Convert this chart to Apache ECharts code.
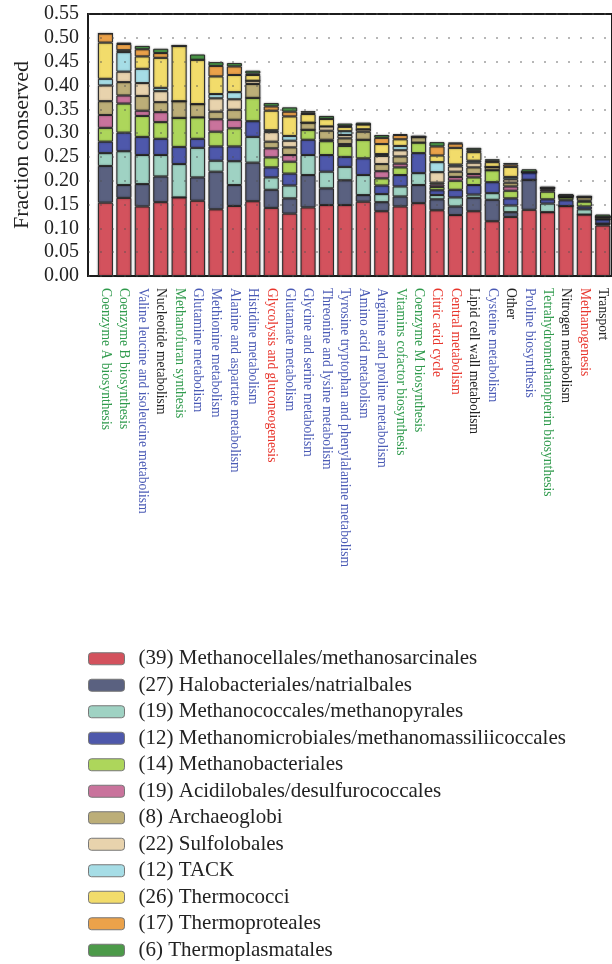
<!DOCTYPE html>
<html>
<head>
<meta charset="utf-8">
<script src="https://cdn.jsdelivr.net/npm/echarts@6/dist/echarts.min.js"></script>
<style>
html,body{margin:0;padding:0;background:#fff;}
#chart{width:612px;height:964px;}
</style>
</head>
<body>
<div id="chart"></div>
<script>
const categories = [
  'Coenzyme A biosynthesis','Coenzyme B biosynthesis','Valine leucine and isoleucine metabolism',
  'Nucleotide metabolism','Methanofuran synthesis','Glutamine metabolism','Methionine metabolism',
  'Alanine and aspartate metabolism','Histidine metabolism','Glycolysis and gluconeogenesis',
  'Glutamate metabolism','Glycine and serine metabolism','Threonine and lysine metabolism',
  'Tyrosine tryptophan and phenylalanine metabolism','Amino acid metabolism','Arginine and proline metabolism',
  'Vitamins cofactor biosynthesis','Coenzyme M biosynthesis','Citric acid cycle','Central metabolism',
  'Lipid cell wall metabolism','Cysteine metabolism','Other','Proline biosynthesis',
  'Tetrahydromethanopterin biosynthesis','Nitrogen metabolism','Methanogenesis','Transport'
];
const categoryGroups = [
  'cofactor','cofactor','amino','other','cofactor','amino','amino','amino','amino','energy',
  'amino','amino','amino','amino','amino','amino','cofactor','cofactor','energy','energy',
  'other','amino','other','amino','cofactor','other','energy','other'
];
const seriesNames = [
  '(39) Methanocellales/methanosarcinales','(27) Halobacteriales/natrialbales',
  '(19) Methanococcales/methanopyrales','(12) Methanomicrobiales/methanomassiliicoccales',
  '(14) Methanobacteriales','(19) Acidilobales/desulfurococcales','(8) Archaeoglobi',
  '(22) Sulfolobales','(12) TACK','(26) Thermococci','(17) Thermoproteales','(6) Thermoplasmatales'
];
const methanocellales = [0.154,0.164,0.146,0.155,0.165,0.158,0.140,0.147,0.157,0.143,0.131,0.144,0.149,0.149,0.156,0.136,0.146,0.153,0.138,0.128,0.136,0.115,0.124,0.139,0.134,0.147,0.129,0.106];
const halobacteriales = [0.077,0.027,0.047,0.054,0,0.049,0.079,0.044,0.081,0.038,0.032,0.068,0.035,0.052,0.014,0.019,0.021,0.038,0.023,0.018,0.028,0.045,0.010,0.063,0,0,0,0.004];
const methanococcales = [0.027,0.071,0.061,0.045,0.070,0.062,0.023,0.050,0.054,0.026,0.027,0.042,0.035,0.028,0.042,0.017,0.021,0.025,0.009,0.019,0.007,0.014,0.014,0,0.018,0,0.011,0];
const methanomicrobiales = [0.024,0.039,0.038,0.034,0.036,0.019,0.030,0.031,0.033,0.021,0.025,0.032,0.035,0.021,0.035,0.018,0.024,0.042,0.010,0.016,0.020,0.023,0.015,0.016,0.009,0.012,0.006,0.009];
const methanobacteriales = [0.029,0.061,0.044,0.035,0.061,0.045,0.031,0.038,0.049,0.021,0.025,0.021,0.029,0.023,0.039,0.015,0.016,0.022,0.007,0.019,0.016,0.025,0.016,0,0.016,0.006,0.010,0];
const acidilobales = [0.027,0.017,0.011,0.021,0,0,0.026,0.018,0,0.019,0.014,0,0.003,0.004,0,0.015,0.008,0,0.005,0.008,0.007,0,0.009,0,0.004,0,0.002,0];
const archaeoglobi = [0.029,0.028,0.031,0.021,0.035,0.028,0.016,0.021,0.029,0.014,0.016,0.015,0.019,0.012,0.017,0.015,0.015,0.012,0.004,0.011,0.014,0.007,0.008,0,0.004,0.003,0.008,0.005];
const sulfolobales = [0.033,0.022,0.027,0.023,0,0,0.028,0.022,0.007,0.020,0.014,0,0.009,0.007,0.005,0.017,0.013,0,0.022,0.011,0.010,0,0.007,0,0,0,0,0];
const tack = [0.014,0.041,0.030,0.007,0,0,0.009,0.015,0,0.004,0.010,0,0,0.008,0,0.004,0.009,0,0.021,0.004,0.004,0,0.005,0,0,0,0,0];
const thermococci = [0.076,0.004,0.026,0.063,0.116,0.093,0.037,0.036,0.012,0.041,0.041,0.018,0.016,0.009,0.010,0.021,0.014,0,0.014,0.035,0.018,0.010,0.021,0,0,0,0,0];
const thermoproteales = [0.019,0.013,0.015,0.010,0,0,0.022,0.018,0.003,0.009,0.010,0.003,0,0.002,0,0.013,0.009,0,0.019,0.009,0.004,0.003,0.005,0,0,0,0,0];
const thermoplasmatales = [0,0.003,0.007,0.009,0,0.011,0.008,0.007,0.006,0.007,0.009,0.003,0.006,0.005,0.004,0.006,0.002,0.002,0.009,0.002,0.005,0.003,0.003,0.006,0.002,0.004,0.002,0.005];

const seriesValues = [methanocellales,halobacteriales,methanococcales,methanomicrobiales,methanobacteriales,
  acidilobales,archaeoglobi,sulfolobales,tack,thermococci,thermoproteales,thermoplasmatales];
const seriesColors = ['#d3525d','#5a6180','#9fd2c3','#4e58ab','#add65b','#c9739c','#bcae78','#e8d3ad','#a6dde6','#f2dc6b','#eba24a','#4c9a49'];
const groupColors = {cofactor:'#2f9a4c', amino:'#4a5ab5', energy:'#e8352c', other:'#222222'};
const SERIF = '"Liberation Serif","DejaVu Serif",serif';

const chart = echarts.init(document.getElementById('chart'), null, {renderer:'canvas'});
chart.setOption({
  animation:false,
  backgroundColor:'#ffffff',
  grid:[
    {left:88, top:14, width:640, height:262, show:true, borderColor:'#1c1c1c', borderWidth:2, backgroundColor:'transparent'},
    {left:96.25, top:14, width:518.5, height:262}
  ],
  xAxis:[
    {gridIndex:0, type:'value', show:false, min:0, max:1},
    {gridIndex:1, type:'category', data:categories,
     axisLine:{show:false}, axisTick:{show:false},
     axisLabel:{interval:0, rotate:-90, margin:12, fontFamily:SERIF, fontSize:13.6,
       color:function(v, i){ return groupColors[categoryGroups[categories.indexOf(v)]]; }}}
  ],
  yAxis:[
    {gridIndex:0, type:'value', min:0, max:0.55, interval:0.05, z:5,
     axisLine:{show:false}, axisTick:{show:false},
     axisLabel:{formatter:function(v){return v.toFixed(2);}, fontFamily:SERIF, fontSize:20, color:'#222', margin:9},
     splitLine:{show:true, lineStyle:{type:[2,10], color:'rgba(80,80,80,0.55)', width:1.5}},
     name:'Fraction conserved', nameLocation:'middle', nameGap:55,
     nameTextStyle:{fontFamily:SERIF, fontSize:22, color:'#222'}},
    {gridIndex:1, type:'value', min:0, max:0.55, show:false}
  ],
  legend:{
    orient:'vertical', left:88, top:647, height:316, padding:0, itemWidth:36, itemHeight:12, itemGap:3,
    data:seriesNames,
    itemStyle:{borderColor:'#777', borderWidth:1},
    textStyle:{fontFamily:SERIF, fontSize:21, lineHeight:23.5, color:'#222', padding:[0,0,0,9]}
  },
  series: seriesNames.map(function(name, k){
    return {
      name:name, type:'bar', stack:'total', xAxisIndex:1, yAxisIndex:1, barWidth:15,
      data:seriesValues[k],
      itemStyle:{color:seriesColors[k], borderColor:'#2b2b2b', borderWidth:1,
                 shadowColor:'rgba(0,0,0,0.35)', shadowBlur:2}
    };
  })
});
</script>
</body>
</html>
